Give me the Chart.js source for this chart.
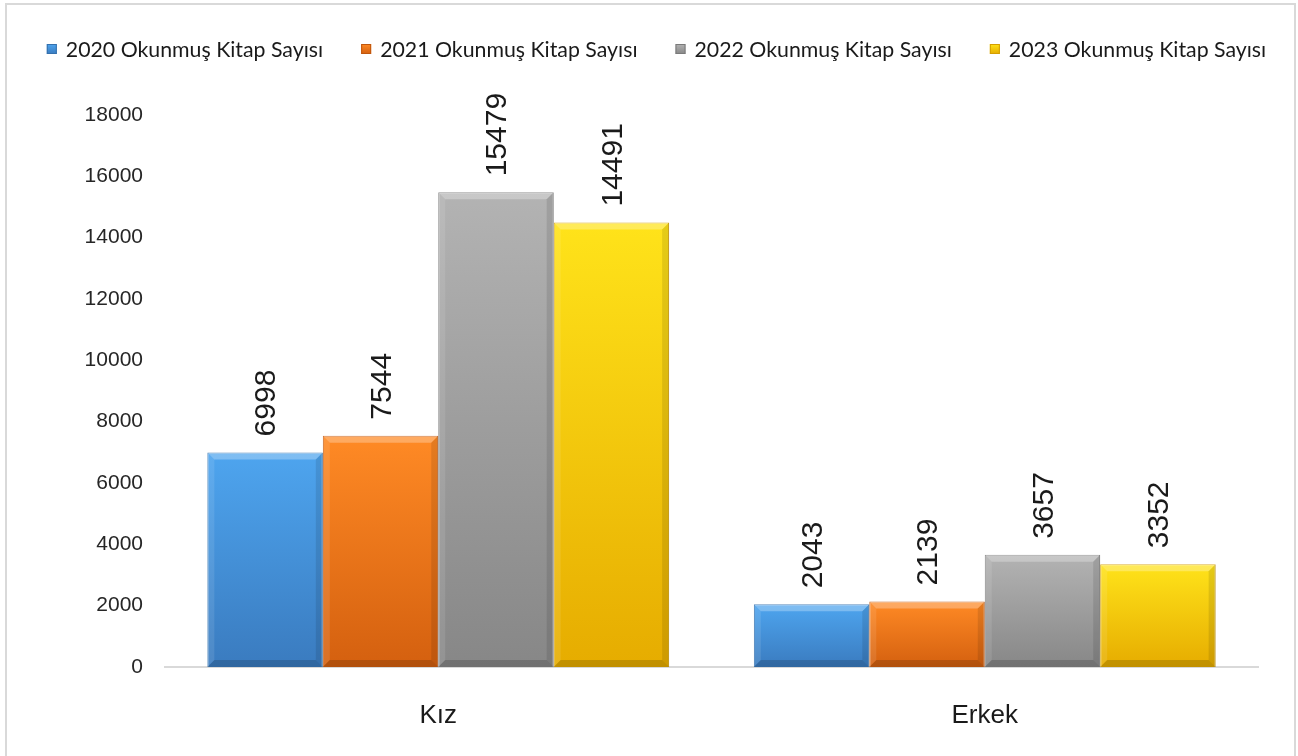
<!DOCTYPE html>
<html>
<head>
<meta charset="utf-8">
<script src="https://cdn.jsdelivr.net/npm/chart.js@4.4.0/dist/chart.umd.min.js"></script>
<style>
  html, body { margin: 0; padding: 0; background: #fff; }
  #wrap { position: relative; width: 1298px; height: 756px; overflow: hidden; }
  #frame { position: absolute; left: 5px; top: 3px; width: 1287px; height: 800px; border: 2px solid #d9d9d9; pointer-events: none; }
</style>
</head>
<body>
<div id="wrap">
  <canvas id="chart" width="1298" height="756"></canvas>
  <div id="frame"></div>
</div>
<script>
// data
const categories = ['Kız', 'Erkek'];
const seriesNames = [
  '2020 Okunmuş Kitap Sayısı',
  '2021 Okunmuş Kitap Sayısı',
  '2022 Okunmuş Kitap Sayısı',
  '2023 Okunmuş Kitap Sayısı'
];
const values2020 = [6998, 2043];
const values2021 = [7544, 2139];
const values2022 = [15479, 3657];
const values2023 = [14491, 3352];
const yTicks = { min: 0, max: 18000, step: 2000 };

// [top, bottom, border] colours per series
const palette = [
  ['#4ea5ef', '#3a7bbf', '#3470ad'],
  ['#ff8a25', '#d4600f', '#c0560c'],
  ['#b3b3b3', '#878787', '#7a7a7a'],
  ['#ffe31a', '#e6ac00', '#d49e00']
];

const seriesValues = [values2020, values2021, values2022, values2023];

function barFill(i) {
  return function (ctx) {
    const chart = ctx.chart;
    const y = chart.scales.y;
    if (!chart.chartArea || !y || ctx.raw == null) return palette[i][0];
    const top = y.getPixelForValue(ctx.raw);
    const bottom = y.getPixelForValue(0);
    if (!isFinite(top) || bottom - top < 1) return palette[i][0];
    const g = chart.ctx.createLinearGradient(0, top, 0, bottom);
    g.addColorStop(0, palette[i][0]);
    g.addColorStop(1, palette[i][1]);
    return g;
  };
}

// soft bevel on the bar edges, like the office chart
const bevel = {
  id: 'bevel',
  afterDatasetsDraw(chart) {
    const ctx = chart.ctx;
    const b = 7;
    chart.data.datasets.forEach((ds, i) => {
      chart.getDatasetMeta(i).data.forEach(bar => {
        const l = bar.x - bar.width / 2, r = bar.x + bar.width / 2;
        const t = bar.y, btm = bar.base;
        if (btm - t < 2 * b) return;
        ctx.save();
        ctx.fillStyle = 'rgba(255,255,255,0.28)';
        ctx.beginPath();
        ctx.moveTo(l, t); ctx.lineTo(r, t); ctx.lineTo(r - b, t + b); ctx.lineTo(l + b, t + b);
        ctx.closePath(); ctx.fill();
        ctx.fillStyle = 'rgba(255,255,255,0.10)';
        ctx.beginPath();
        ctx.moveTo(l, t); ctx.lineTo(l + b, t + b); ctx.lineTo(l + b, btm - b); ctx.lineTo(l, btm);
        ctx.closePath(); ctx.fill();
        ctx.fillStyle = 'rgba(0,0,0,0.10)';
        ctx.beginPath();
        ctx.moveTo(r, t); ctx.lineTo(r - b, t + b); ctx.lineTo(r - b, btm - b); ctx.lineTo(r, btm);
        ctx.closePath(); ctx.fill();
        ctx.fillStyle = 'rgba(0,0,0,0.16)';
        ctx.beginPath();
        ctx.moveTo(l, btm); ctx.lineTo(l + b, btm - b); ctx.lineTo(r - b, btm - b); ctx.lineTo(r, btm);
        ctx.closePath(); ctx.fill();
        ctx.restore();
      });
    });
  }
};

const valueLabels = {
  id: 'valueLabels',
  afterDatasetsDraw(chart) {
    const ctx = chart.ctx;
    ctx.save();
    ctx.font = '30px "Liberation Sans", Arial, sans-serif';
    ctx.fillStyle = '#1a1a1a';
    ctx.textAlign = 'left';
    ctx.textBaseline = 'middle';
    chart.data.datasets.forEach((ds, i) => {
      chart.getDatasetMeta(i).data.forEach((bar, j) => {
        ctx.save();
        ctx.translate(bar.x + 2, bar.y - 16);
        ctx.rotate(-Math.PI / 2);
        ctx.fillText(String(ds.data[j]), 0, 0);
        ctx.restore();
      });
    });
    ctx.restore();
  }
};

// one-row legend across the top band
const topLegend = {
  id: 'topLegend',
  afterDraw(chart) {
    const ctx = chart.ctx;
    const names = chart.data.datasets.map(ds => ds.label);
    const box = 10, gapText = 9, gapItem = 38, cy = 49, cx = 656.5;
    ctx.save();
    ctx.font = '21.3px Lato, "Liberation Sans", sans-serif';
    const widths = names.map(n => ctx.measureText(n).width);
    const total = widths.reduce((s, w) => s + box + gapText + w, 0) + gapItem * (names.length - 1);
    let x = cx - total / 2;
    ctx.textBaseline = 'middle';
    ctx.textAlign = 'left';
    names.forEach((n, i) => {
      const g = ctx.createLinearGradient(0, cy - box / 2, 0, cy + box / 2);
      g.addColorStop(0, palette[i][0]);
      g.addColorStop(1, palette[i][1]);
      ctx.fillStyle = g;
      ctx.fillRect(x, cy - box / 2, box, box);
      ctx.strokeStyle = palette[i][2];
      ctx.lineWidth = 1;
      ctx.strokeRect(x + 0.5, cy - box / 2 + 0.5, box - 1, box - 1);
      ctx.fillStyle = '#1a1a1a';
      ctx.fillText(n, x + box + gapText, cy + 1);
      x += box + gapText + widths[i] + gapItem;
    });
    ctx.restore();
  }
};

new Chart(document.getElementById('chart'), {
  type: 'bar',
  data: {
    labels: categories,
    datasets: seriesNames.map((name, i) => ({
      label: name,
      data: seriesValues[i],
      backgroundColor: barFill(i),
      borderColor: palette[i][2],
      borderWidth: 1,
      categoryPercentage: 0.845,
      barPercentage: 1.0
    }))
  },
  options: {
    responsive: false,
    animation: false,
    layout: { padding: { top: 115, right: 40, bottom: 0, left: 0 } },
    plugins: {
      tooltip: { enabled: false },
      legend: { display: false }
    },
    scales: {
      x: {
        grid: { display: false, drawTicks: false },
        border: { display: true, color: '#d9d9d9', width: 2 },
        ticks: {
          color: '#1a1a1a',
          padding: 33,
          font: { family: '"Liberation Sans", Arial, sans-serif', size: 26 }
        },
        afterFit(scale) { scale.height = 89; }
      },
      y: {
        min: yTicks.min,
        max: yTicks.max,
        grid: { display: false, drawTicks: false },
        border: { display: false },
        ticks: {
          stepSize: yTicks.step,
          color: '#262626',
          padding: 22,
          font: { family: '"Liberation Sans", Arial, sans-serif', size: 21 },
          callback: v => String(v)
        },
        afterFit(scale) { scale.width = 165; }
      }
    }
  },
  plugins: [bevel, valueLabels, topLegend]
});
</script>
</body>
</html>
